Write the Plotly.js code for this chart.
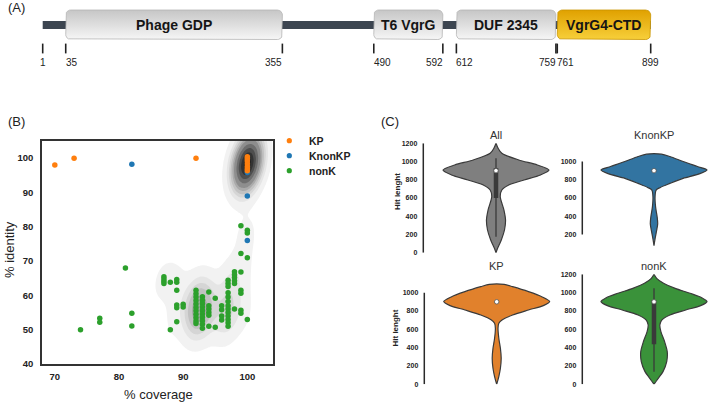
<!DOCTYPE html>
<html>
<head>
<meta charset="utf-8">
<script src="https://cdn.plot.ly/plotly-3.0.1.min.js"></script>
<style>
html, body { margin: 0; padding: 0; background: #fff; }
#chart { width: 709px; height: 403px; }
</style>
</head>
<body>
<div id="chart"></div>
<script>
// ---- (A) domain map ----
var seqStart = 1, seqEnd = 899;
var domainNames = ['Phage GDP', 'T6 VgrG', 'DUF 2345', 'VgrG4-CTD'];
var domainStart = [35, 490, 612, 761];
var domainEnd = [355, 592, 759, 899];
var tickResidues = [1, 35, 355, 490, 592, 612, 759, 761, 899];

// ---- (B) % coverage vs % identity ----
var kpCov = [70, 73, 92, 100, 100, 100, 100, 100, 100, 100];
var kpId = [98, 100, 100, 100.4, 99.8, 99.2, 98.4, 97.6, 96.9, 96.3];
var kpCount = [1, 1, 1, 30, 45, 40, 40, 40, 30, 25];

var knonkpCov = [82, 100, 100, 100];
var knonkpId = [98.2, 95.8, 89, 76];
var knonkpCount = [1, 10, 1, 1];

var nonkCov = [74, 77, 77, 81, 82, 82, 87, 87, 87, 87, 88, 88,
  89, 89, 89, 89, 89, 89, 90, 90,
  92, 92, 92, 92, 92, 92, 92, 92, 92, 92, 92,
  93, 93, 93, 93, 93, 93, 93, 93, 93, 93,
  94, 94, 94, 94, 94, 94, 95, 95, 96, 96, 96, 96,
  97, 97, 97, 97, 97, 97, 97, 97, 97, 97, 97, 97, 97,
  98, 98, 98, 98, 98, 98, 99, 99, 99, 99, 99, 99, 99,
  100, 100, 100, 100];
var nonkId = [50, 53.3, 52.2, 68, 54.8, 51.1, 65.4, 64.8, 64.1, 63.5, 63.8, 50,
  64.6, 63.8, 61.5, 57.2, 56.4, 52.3, 57.4, 56.6,
  61.5, 60.5, 59.5, 58.5, 57.5, 56.5, 55.5, 54.5, 53.5, 52.5, 51.8,
  59.6, 58.6, 57.6, 56.6, 55.6, 54.6, 53.6, 52.6, 51.6, 50.4,
  61, 57, 56, 55, 54.2, 51, 59.2, 50.7, 57, 55.8, 54, 52.8,
  64.4, 63.5, 62.6, 60.8, 59.5, 58.2, 57, 56, 55, 54, 53, 52, 51,
  66.9, 66, 65.2, 64.3, 63.5, 56, 66.8, 61.5, 60.6, 55.7, 54.8, 80.3, 72.2,
  53, 79, 78.2, 71];
var nonkCount = [1, 1, 1, 1, 1, 1, 1, 1, 1, 1, 1, 1,
  1, 1, 1, 1, 1, 1, 1, 1,
  3, 3, 4, 5, 6, 6, 6, 5, 4, 3, 2,
  3, 3, 4, 5, 5, 5, 4, 3, 2, 1,
  1, 2, 2, 2, 1, 1, 1, 1, 1, 1, 1, 1,
  2, 2, 1, 2, 2, 2, 3, 3, 3, 3, 2, 2, 2,
  1, 1, 1, 1, 1, 1, 1, 1, 1, 1, 1, 1, 1,
  1, 1, 1, 1];

// ---- (C) hit length violins (outline) ----
var violinNames = ['All', 'KnonKP', 'KP', 'nonK'];
var allLevels = [1200, 1145, 1090, 1017, 962, 907, 853, 798, 743, 688, 615, 468, 359, 249, 139, 48, 0];
var allDensity = [0, 0.04, 0.11, 0.43, 0.78, 1.0, 0.84, 0.53, 0.24, 0.11, 0.08, 0.15, 0.18, 0.16, 0.10, 0.03, 0];
var knonkpLevels = [1081, 1055, 1000, 945, 908, 864, 816, 760, 716, 687, 613, 502, 392, 318, 244, 152, 78];
var knonkpDensity = [0.14, 0.3, 0.55, 0.82, 1.0, 0.85, 0.55, 0.3, 0.12, 0.04, 0.02, 0.03, 0.06, 0.07, 0.05, 0.02, 0];
var kpLevels = [1090, 1065, 1011, 956, 902, 858, 811, 756, 702, 665, 611, 502, 393, 284, 175, 84, 0];
var kpDensity = [0.14, 0.3, 0.6, 0.85, 1.0, 0.88, 0.6, 0.3, 0.1, 0.04, 0.025, 0.04, 0.07, 0.085, 0.07, 0.04, 0];
var nonkLevels = [1200, 1156, 1102, 1047, 993, 945, 902, 858, 811, 756, 702, 647, 575, 465, 356, 247, 138, 65, 0];
var nonkDensity = [0, 0.05, 0.18, 0.4, 0.68, 0.9, 1.0, 0.88, 0.6, 0.3, 0.15, 0.11, 0.13, 0.2, 0.25, 0.24, 0.17, 0.08, 0];
var boxQ1 = [600, 893, 893, 436];
var boxQ3 = [930, 907, 907, 920];
var boxMedian = [900, 900, 900, 900];
var whiskerLo = [175, 893, 893, 138];
var whiskerHi = [1035, 907, 907, 1047];

var W = 709, H = 403;
function px(x) { return x / W; }
function py(y) { return 1 - y / H; }

var traces = [];
var shapes = [];
var annotations = [];

// text placed in page pixels
function label(x, y, text, font, extra) {
  var a = {x: px(x), y: py(y), xref: 'paper', yref: 'paper', text: text, showarrow: false,
    xanchor: 'center', yanchor: 'middle', font: font};
  for (var key in (extra || {})) a[key] = extra[key];
  annotations.push(a);
}

// ---------- panel A ----------
var resPerPx = 898 / 608;
var resLeft = 1 - 42.7 * resPerPx;
function roundedBox(x0, x1, y0, y1, rx, ry) {
  var xs = [], ys = [];
  var corners = [[x1 - rx, y0 + ry, -90], [x1 - rx, y1 - ry, 0], [x0 + rx, y1 - ry, 90], [x0 + rx, y0 + ry, 180]];
  corners.forEach(function (c) {
    for (var a = 0; a <= 90; a += 15) {
      var t = (c[2] + a) * Math.PI / 180;
      xs.push(c[0] + rx * Math.cos(t));
      ys.push(c[1] + ry * Math.sin(t));
    }
  });
  xs.push(xs[0]); ys.push(ys[0]);
  return {x: xs, y: ys};
}

traces.push({
  x: [seqStart, seqEnd], y: [25, 25], xaxis: 'x', yaxis: 'y',
  mode: 'lines', line: {color: '#3c4550', width: 8}, hoverinfo: 'skip'
});
domainNames.forEach(function (name, i) {
  var b = roundedBox(domainStart[i], domainEnd[i], 10, 39.5, 5 * resPerPx, 5);
  var gold = name === 'VgrG4-CTD';
  traces.push({
    x: b.x, y: b.y, xaxis: 'x', yaxis: 'y', mode: 'lines', fill: 'toself',
    fillgradient: {type: 'vertical', colorscale: gold ?
      [[0, '#f7cf3a'], [1, '#e0a100']] : [[0, '#f6f6f6'], [1, '#c6c6c6']]},
    line: {color: gold ? '#c99400' : '#b5b5b5', width: 0.8}, hoverinfo: 'skip'
  });
  annotations.push({
    x: (domainStart[i] + domainEnd[i]) / 2, y: 25, xref: 'x', yref: 'y',
    xanchor: 'center', yanchor: 'middle',
    text: '<b>' + name + '</b>', showarrow: false,
    font: {size: 14, color: '#151515', family: 'Liberation Sans, Arial'}
  });
});
traces.push({
  x: tickResidues, y: tickResidues.map(function () { return 48.5; }), xaxis: 'x', yaxis: 'y',
  mode: 'markers', marker: {symbol: 'line-ns', size: 7, line: {width: 1.6, color: '#222'}},
  hoverinfo: 'skip'
});
var tickAnchor = ['center', 'left', 'right', 'left', 'right', 'left', 'right', 'left', 'center'];
tickResidues.forEach(function (r, i) {
  annotations.push({
    x: r, y: 62.5, xref: 'x', yref: 'y', text: String(r), showarrow: false,
    xanchor: tickAnchor[i], yanchor: 'middle',
    xshift: tickAnchor[i] === 'left' ? -2 : (tickAnchor[i] === 'right' ? 2 : 0),
    font: {size: 10, color: '#222'}
  });
});

// ---------- panel B ----------
var allCov = nonkCov.concat(knonkpCov, kpCov);
var allId = nonkId.concat(knonkpId, kpId);
var allW = nonkCount.concat(knonkpCount, kpCount);
var bwX = 1.3, bwY = 4.2, rho = 0.3;
var gx = [], gy = [];
for (var v = 66; v <= 106; v += 0.2) gx.push(v);
for (var u = 38; u <= 107; u += 0.5) gy.push(u);
var z = gy.map(function (yy) {
  return gx.map(function (xx) {
    var s = 0;
    for (var k = 0; k < allCov.length; k++) {
      var dx = (xx - allCov[k]) / bwX, dy = (yy - allId[k]) / bwY;
      s += allW[k] * Math.exp(-(dx * dx - 2 * rho * dx * dy + dy * dy) / (2 * (1 - rho * rho)));
    }
    return s;
  });
});
// iso-proportion transform (share of mass below each density)
var cells = [];
z.forEach(function (row, j) { row.forEach(function (val, i) { cells.push([val, j, i]); }); });
cells.sort(function (a, b) { return a[0] - b[0]; });
var total = 0;
cells.forEach(function (c) { total += c[0]; });
var q = gy.map(function () { return new Array(gx.length); });
var acc = 0;
cells.forEach(function (c) { q[c[1]][c[2]] = acc / total; acc += c[0]; });

traces.push({
  type: 'contour', x: gx, y: gy, z: q, xaxis: 'x2', yaxis: 'y2',
  autocontour: false, contours: {start: 0.05, end: 0.95, size: 0.1, coloring: 'fill', showlines: false},
  colorscale: [[0, '#ffffff'], [0.1, '#f2f2f2'], [0.2, '#e5e5e5'], [0.3, '#d5d5d5'], [0.4, '#c2c2c2'],
    [0.5, '#aaaaaa'], [0.6, '#8e8e8e'], [0.7, '#6e6e6e'], [0.8, '#4e4e4e'], [0.9, '#333333'], [1, '#202020']],
  showscale: false, line: {width: 0}, hoverinfo: 'skip'
});
traces.push({x: nonkCov, y: nonkId, xaxis: 'x2', yaxis: 'y2', mode: 'markers', name: 'nonK',
  marker: {color: '#2ca02c', size: 5.5}});
traces.push({x: knonkpCov, y: knonkpId, xaxis: 'x2', yaxis: 'y2', mode: 'markers', name: 'KnonKP',
  marker: {color: '#1f77b4', size: 5.5}});
traces.push({x: kpCov, y: kpId, xaxis: 'x2', yaxis: 'y2', mode: 'markers', name: 'KP',
  marker: {color: '#ff7f0e', size: 5.5}});

// legend drawn by hand
var legendItems = [['KP', '#ff7f0e'], ['KnonKP', '#1f77b4'], ['nonK', '#2ca02c']];
legendItems.forEach(function (it, i) {
  var cy = 140.7 + i * 15, cx = 289.3, r = 2.6;
  shapes.push({type: 'circle', xref: 'paper', yref: 'paper', x0: px(cx - r), x1: px(cx + r),
    y0: py(cy + r), y1: py(cy - r), fillcolor: it[1], line: {width: 0}});
  label(307, cy, '<b>' + it[0] + '</b>', {size: 10.5, color: '#222'}, {xanchor: 'left'});
});

// ---------- panel C ----------
var vLevels = [allLevels, knonkpLevels, kpLevels, nonkLevels];
var vDensity = [allDensity, knonkpDensity, kpDensity, nonkDensity];
var vColors = ['#7f7f7f', '#3274a1', '#e1812c', '#3a923a'];
var vTicks = [[0, 200, 400, 600, 800, 1000, 1200], [200, 400, 600, 800, 1000],
  [0, 200, 400, 600, 800, 1000], [0, 200, 400, 600, 800, 1000, 1200]];
// axis line x, violin centre x, right edge, top, bottom (pixels)
var vGeom = [[423.3, 496, 570, 143.3, 252.7], [582.3, 654, 709, 143.3, 252.7],
  [424.3, 496.7, 570, 274.3, 384.3], [582.3, 654, 709, 274.3, 384.3]];
var halfPx = 53;
var layoutAxes = {};

violinNames.forEach(function (name, i) {
  var g = vGeom[i];
  var xa = 'x' + (i + 3), ya = 'y' + (i + 3);
  var lev = vLevels[i], den = vDensity[i];
  var xs = [], ys = [];
  for (var k = 0; k < lev.length; k++) { xs.push(den[k]); ys.push(lev[k]); }
  for (var k2 = lev.length - 1; k2 >= 0; k2--) { xs.push(-den[k2]); ys.push(lev[k2]); }
  xs.push(xs[0]); ys.push(ys[0]);
  traces.push({x: xs, y: ys, xaxis: xa, yaxis: ya, mode: 'lines', fill: 'toself',
    fillcolor: vColors[i], line: {color: '#3a3a3a', width: 1.2, shape: 'spline', smoothing: 0.8},
    hoverinfo: 'skip'});
  traces.push({x: [0, 0], y: [whiskerLo[i], whiskerHi[i]], xaxis: xa, yaxis: ya, mode: 'lines',
    line: {color: '#3a3a3a', width: 1.3}, hoverinfo: 'skip'});
  traces.push({x: [0, 0], y: [boxQ1[i], boxQ3[i]], xaxis: xa, yaxis: ya, mode: 'lines',
    line: {color: '#3a3a3a', width: 4.5}, hoverinfo: 'skip'});
  traces.push({x: [0], y: [boxMedian[i]], xaxis: xa, yaxis: ya, mode: 'markers',
    marker: {color: '#ffffff', size: 4.5, line: {color: '#555', width: 0.8}}, hoverinfo: 'skip'});

  layoutAxes['xaxis' + (i + 3)] = {domain: [px(g[0]), px(g[2])],
    range: [(g[0] - g[1]) / halfPx, (g[2] - g[1]) / halfPx], visible: false, anchor: ya, fixedrange: true};
  layoutAxes['yaxis' + (i + 3)] = {domain: [py(g[4]), py(g[3])], range: [0, 1200], anchor: xa,
    showgrid: false, zeroline: false, showline: false, ticks: '', tickvals: vTicks[i],
    ticklabelstandoff: 5, tickfont: {size: 7, color: '#222', family: 'Liberation Sans, Arial', weight: 'bold'}};
  var t = vTicks[i];
  shapes.push({type: 'line', xref: 'paper', yref: ya, x0: px(g[0]), x1: px(g[0]),
    y0: t[0], y1: t[t.length - 1], line: {color: '#2a2a2a', width: 1.5}});
  label(g[1], g[3] - 8.5, name, {size: 11, color: '#333'});
});
label(397, 192, '<b>Hit lenght</b>', {size: 8, color: '#222'}, {textangle: -90});
label(394.5, 328, '<b>Hit lenght</b>', {size: 8, color: '#222'}, {textangle: -90});

// panel labels and axis titles
label(16, 8, '(A)', {size: 13, color: '#222'});
label(16, 122, '(B)', {size: 13, color: '#222'});
label(390, 121, '(C)', {size: 13, color: '#222'});
label(158, 394, '% coverage', {size: 13, color: '#222'});
label(9, 250, '% identity', {size: 13, color: '#222'}, {textangle: -90});

var layout = {
  width: W, height: H, margin: {l: 0, r: 0, t: 0, b: 0},
  paper_bgcolor: '#ffffff', plot_bgcolor: 'rgba(0,0,0,0)', showlegend: false,
  font: {family: 'Liberation Sans, Arial, sans-serif', color: '#222'},
  xaxis: {domain: [0, 1], range: [resLeft, resLeft + W * resPerPx], visible: false, anchor: 'y'},
  yaxis: {domain: [py(95), 1], range: [95, 0], visible: false, anchor: 'x'},
  xaxis2: {domain: [px(42), px(273)], range: [68, 104], anchor: 'y2', showline: true, mirror: true,
    linecolor: '#333', linewidth: 1.8, ticks: '', showgrid: false, zeroline: false,
    tickvals: [70, 80, 90, 100], ticklabelstandoff: 3,
    tickfont: {size: 9.5, color: '#222', weight: 'bold'}},
  yaxis2: {domain: [py(364), py(141)], range: [40, 105], anchor: 'x2', showline: true, mirror: true,
    linecolor: '#333', linewidth: 1.8, ticks: '', showgrid: false, zeroline: false,
    tickvals: [40, 50, 60, 70, 80, 90, 100], ticklabelstandoff: 5,
    tickfont: {size: 9.5, color: '#222', weight: 'bold'}},
  shapes: shapes,
  annotations: annotations
};
Object.keys(layoutAxes).forEach(function (k) { layout[k] = layoutAxes[k]; });

Plotly.newPlot('chart', traces, layout, {displayModeBar: false, staticPlot: true});
</script>
</body>
</html>
